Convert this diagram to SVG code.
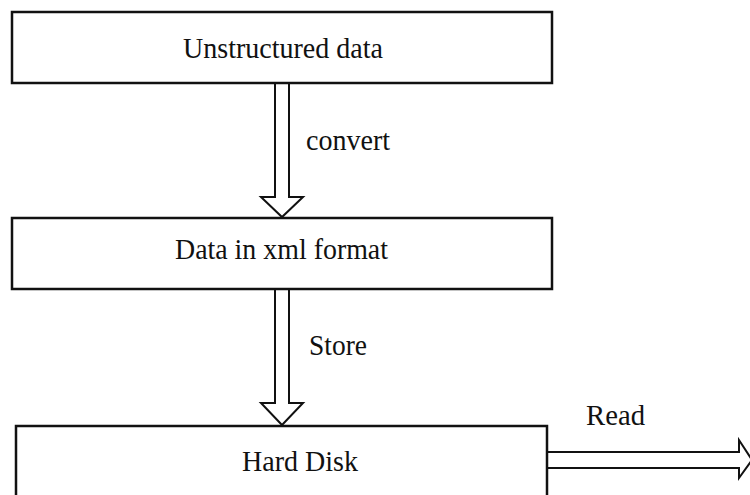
<svg xmlns="http://www.w3.org/2000/svg" width="750" height="495" viewBox="0 0 750 495">
<style>
.box{fill:#fff;stroke:#111;stroke-width:2.5}
.arr{fill:#fff;stroke:#111;stroke-width:2;stroke-linejoin:miter}
text{font-family:"Liberation Serif","Times New Roman",serif;font-size:29px;fill:#111}
</style>
<rect width="750" height="495" fill="#fff"/>
<g id="connectors">
<path class="arr" d="M275,84 V197 H261 L282,217 L303,197 H289 V84"/>
<text x="306" y="150" textLength="84" lengthAdjust="spacingAndGlyphs">convert</text>
<path class="arr" d="M275,290 V403 H261 L282,425 L303,403 H289 V290"/>
<text x="309" y="355" textLength="58" lengthAdjust="spacingAndGlyphs">Store</text>
<path class="arr" d="M548,452 H739 V440 L752,460 L739,478 V468 H548"/>
<text x="586" y="425" textLength="59" lengthAdjust="spacingAndGlyphs">Read</text>
</g>
<g id="n1">
<rect class="box" x="12" y="12" width="540" height="71"/>
<text x="183" y="58" textLength="200" lengthAdjust="spacingAndGlyphs">Unstructured data</text>
</g>
<g id="n2">
<rect class="box" x="12" y="218" width="540" height="71"/>
<text x="175" y="259" textLength="213" lengthAdjust="spacingAndGlyphs">Data in xml format</text>
</g>
<g id="n3">
<rect class="box" x="16" y="426" width="531" height="80"/>
<text x="242" y="471" textLength="116" lengthAdjust="spacingAndGlyphs">Hard Disk</text>
</g>
</svg>
